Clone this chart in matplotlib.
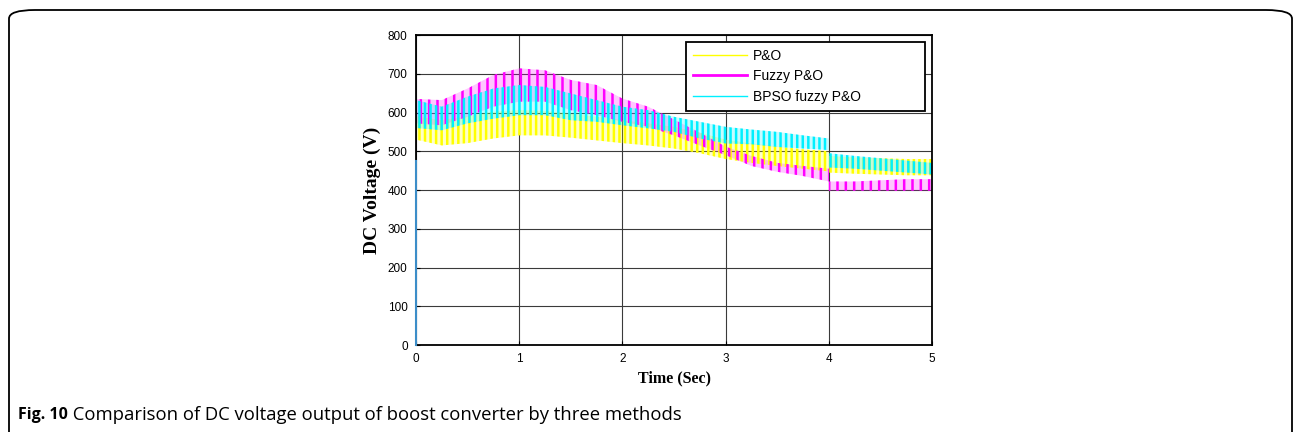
# -*- coding: utf-8 -*-
"""
DC voltage of the boost converter for three MPPT methods (P&O, fuzzy P&O,
BPSO fuzzy P&O). The fast ripple is shown as a hatched band between the
envelopes read off the figure.
"""
import numpy as np
import matplotlib
matplotlib.use("Agg")
from matplotlib import pyplot as plt
from matplotlib.lines import Line2D
from matplotlib.patches import FancyBboxPatch

# =============================================================================
# data, envelope knots in seconds
# =============================================================================
t = [0.0, 0.25, 0.5, 0.75, 1.0, 1.25, 1.5, 1.75, 2.0, 2.25, 2.5, 2.75,
     3.0, 3.25, 3.5, 3.75, 4.0, 4.0, 4.25, 4.5, 4.75, 5.0]

po_lo = [530, 515, 521, 533, 541, 541, 535, 528, 521, 515, 507, 495,
         480, 470, 462, 455, 448, 445, 442, 440, 438, 438]
po_hi = [590, 580, 590, 602, 606, 604, 597, 589, 580, 572, 563, 548,
         530, 520, 512, 505, 500, 488, 484, 482, 480, 480]

fz_lo = [572, 567, 589, 615, 628, 628, 606, 593, 576, 563, 541, 515,
         490, 462, 447, 436, 422, 398, 398, 398, 398, 398]
fz_hi = [635, 632, 662, 697, 714, 709, 684, 671, 636, 615, 582, 548,
         512, 488, 470, 462, 455, 422, 422, 425, 428, 428]

bp_lo = [560, 554, 572, 584, 593, 593, 580, 576, 567, 559, 550, 533,
         520, 518, 511, 507, 503, 458, 455, 450, 445, 440]
bp_hi = [632, 615, 641, 662, 671, 666, 649, 632, 615, 606, 589, 576,
         563, 556, 550, 541, 533, 495, 488, 482, 476, 470]

# start-up jump at t = 0
t_start = [0.0, 0.0]
v_start = [0.0, 475.0]

labels = ["P&O", "Fuzzy P&O", "BPSO fuzzy P&O"]
xticks = [0, 1, 2, 3, 4, 5]
yticks = [0, 100, 200, 300, 400, 500, 600, 700, 800]

caption_bold = "Fig. 10"
caption_text = " Comparison of DC voltage output of boost converter by three methods"

# =============================================================================
# plot
# =============================================================================
plt.rcParams["hatch.linewidth"] = 1.8

W, H = 1295, 432
fig = plt.figure(figsize=(W / 100, H / 100), dpi=100)

# rounded frame around the figure
frame = FancyBboxPatch((9 / W, -0.05), (1292 - 9) / W, (432 - 10) / H + 0.05,
                       boxstyle="round,pad=0,rounding_size=0.02",
                       transform=fig.transFigure, facecolor="none",
                       edgecolor="black", linewidth=1.3, clip_on=False)
fig.patches.append(frame)

ax = fig.add_axes([416 / W, 1 - 345 / H, (932 - 416) / W, 310 / H])

colors = ["#ffff00", "#ff00ff", "#00f0ff"]
bands = [(po_lo, po_hi, "|||"), (fz_lo, fz_hi, "||"), (bp_lo, bp_hi, "|||")]

# light tint under the ripple
for (lo, hi, hatch), c in zip(bands, colors):
    ax.fill_between(t, lo, hi, facecolor=c, alpha=0.22, linewidth=0,
                    zorder=1.5)
# ripple strokes
for (lo, hi, hatch), c in zip(bands, colors):
    ax.fill_between(t, lo, hi, facecolor="none", edgecolor=c, hatch=hatch,
                    linewidth=0, zorder=2)

ax.plot(t_start, v_start, color="#3c8dc8", lw=1.5, zorder=4, clip_on=False)

ax.set_xlim(0, 5)
ax.set_ylim(0, 800)
ax.set_xticks(xticks)
ax.set_yticks(yticks)
ax.grid(True, color="#3a3a3a", linewidth=0.8)
ax.set_axisbelow(True)
ax.tick_params(direction="in", length=3, labelsize=8.5, pad=6)
for lab in ax.get_xticklabels() + ax.get_yticklabels():
    lab.set_fontfamily("Liberation Sans")
for sp in ax.spines.values():
    sp.set_linewidth(1.3)

ax.set_xlabel("Time (Sec)", family="Liberation Serif", weight="bold",
              fontsize=11.5, labelpad=4)
ax.set_ylabel("DC Voltage (V)", family="Liberation Serif", weight="bold",
              fontsize=14, labelpad=5)

handles = [Line2D([], [], color=colors[0], lw=1.0),
           Line2D([], [], color=colors[1], lw=2.0),
           Line2D([], [], color=colors[2], lw=1.0)]
leg = ax.legend(handles, labels, loc="upper left",
                bbox_to_anchor=(0.523, 0.977, 0.463, 0.0), mode="expand",
                borderaxespad=0, fancybox=False, framealpha=1,
                edgecolor="black", handlelength=3.9, handletextpad=0.45,
                labelspacing=0.45, borderpad=0.5,
                prop={"family": "Liberation Sans", "size": 10})
leg.get_frame().set_linewidth(1.3)

# caption
txt = fig.text(18 / W, 1 - 415 / H, caption_bold, family="Open Sans",
               weight="bold", fontsize=11.5, va="center")
fig.canvas.draw()
bb = txt.get_window_extent()
fig.text(bb.x1 / W, 1 - 415 / H, caption_text, family="Open Sans",
         fontsize=13.3, va="center")

fig.savefig("out.png", dpi=100)
